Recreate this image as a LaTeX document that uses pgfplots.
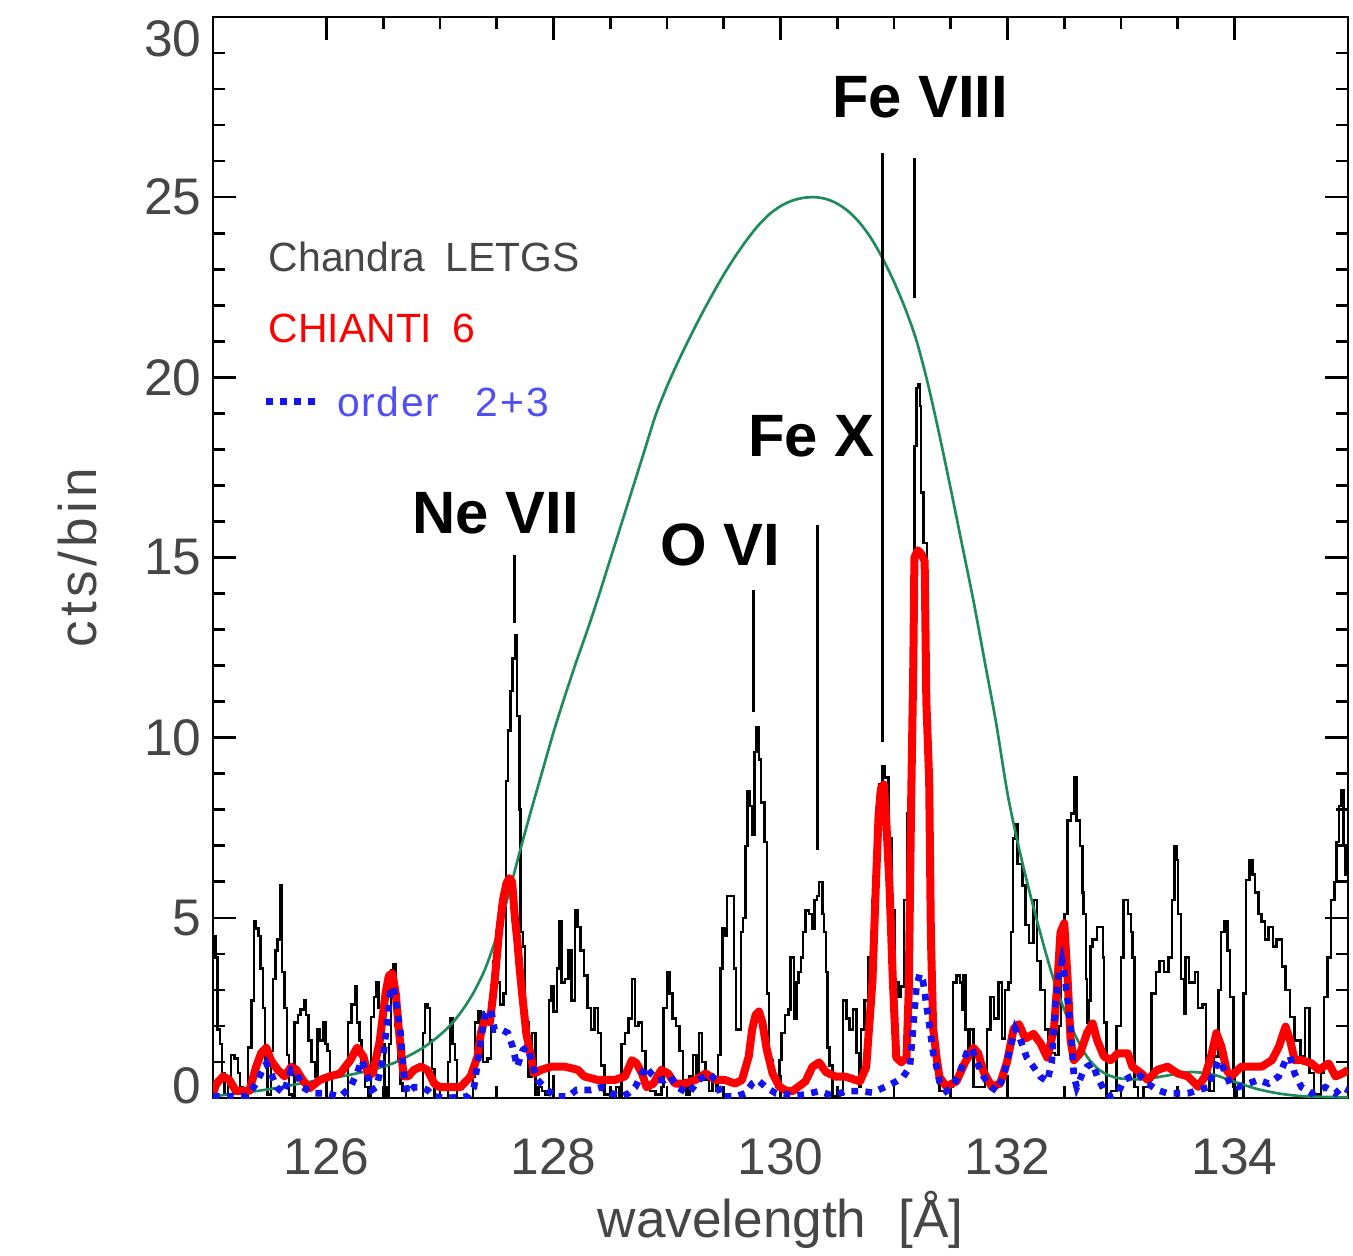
\documentclass[border=0pt]{standalone}
\usepackage{fontspec}
\setmainfont{Liberation Sans}
\usepackage{pgfplots}
\pgfplotsset{compat=1.18}
\definecolor{fitgreen}{RGB}{30,140,90}
\definecolor{ordblue}{RGB}{20,20,240}
\definecolor{lblgray}{RGB}{70,70,70}
\begin{document}
\begin{tikzpicture}
\begin{axis}[
  name=ax, at={(0,0)}, anchor=south west,
  scale only axis, width=340.5bp, height=324.3bp,
  xmin=125, xmax=135, ymin=0, ymax=30,
  xtick={126,128,130,132,134}, ytick={0,5,10,15,20,25,30},
  yticklabels={{\smash{\raisebox{-1.65bp}{0}}},5,10,15,20,25,{\smash{\raisebox{-11.85bp}{30}}}},
  minor x tick num=3, minor y tick num=4,
  tick align=inside, major tick length=6.9bp, minor tick length=3.6bp,
  every tick/.style={black, line width=0.8bp},
  axis line style={line width=0.8bp},
  tick label style={font=\fontsize{15.5}{18}\selectfont, text=lblgray},
  xticklabel style={yshift=-8.5bp},
  /pgf/number format/assume math mode=true,
  clip mode=individual,
]
% Chandra LETGS
\addplot[const plot, black, line width=0.75bp] table {
125.00 4.5
125.02 3.9
125.04 1.9
125.06 1.5
125.08 0.7
125.10 0.1
125.13 0.4
125.16 1.2
125.19 1.1
125.22 0.7
125.24 0.3
125.26 0.0
125.31 1.4
125.34 2.7
125.36 4.9
125.38 4.7
125.40 4.5
125.42 3.6
125.44 2.5
125.46 1.1
125.48 0.1
125.51 1.3
125.53 3.3
125.55 4.1
125.57 4.4
125.59 5.9
125.61 3.5
125.63 2.5
125.65 1.2
125.67 0.1
125.70 0.0
125.72 2.1
125.75 2.3
125.77 2.45
125.80 2.7
125.82 2.3
125.84 1.6
125.87 1.0
125.90 0.6
125.92 1.9
125.94 1.6
125.97 2.1
125.99 1.5
126.01 1.3
126.03 0.7
126.05 0.0
126.19 2.1
126.22 2.6
126.25 3.1
126.27 2.1
126.29 1.6
126.31 1.0
126.34 0.3
126.37 0.0
126.39 2.25
126.42 2.8
126.44 3.2
126.46 2.5
126.49 1.5
126.51 0.3
126.53 0.0
126.55 1.5
126.57 3.55
126.59 3.7
126.61 2.0
126.63 1.0
126.65 0.4
126.67 0.2
126.70 0.0
126.85 1.8
126.87 2.6
126.89 2.5
126.91 1.6
126.93 0.8
126.95 0.0
127.07 1.0
127.09 2.2
127.11 1.5
127.13 1.05
127.15 0.0
127.29 0.6
127.31 2.1
127.34 2.4
127.36 1.6
127.38 1.0
127.42 1.1
127.45 2.5
127.47 3.8
127.50 3.2
127.53 2.6
127.56 2.9
127.58 8.8
127.60 10.2
127.62 11.3
127.64 12.2
127.66 12.85
127.68 10.6
127.70 8.0
127.71 4.6
127.73 4.2
127.75 2.1
127.78 0.6
127.81 1.8
127.84 0.1
127.87 0.3
127.90 0.2
127.93 0.1
127.96 2.7
127.98 3.1
128.00 2.4
128.03 3.6
128.05 4.9
128.07 3.2
128.10 3.3
128.13 4.1
128.16 2.7
128.19 5.2
128.21 4.75
128.24 4.1
128.27 3.4
128.30 2.5
128.33 1.9
128.36 2.5
128.39 1.8
128.42 0.9
128.45 0.1
128.50 0.0
128.55 0.3
128.58 0.0
128.60 1.5
128.63 1.8
128.66 2.2
128.69 3.3
128.72 2.0
128.75 2.1
128.78 1.3
128.81 0.3
128.85 0.2
128.90 0.1
128.95 0.3
128.97 2.5
129.00 3.5
129.02 2.9
129.05 2.2
129.08 2.0
129.11 1.3
129.14 0.5
129.17 0.1
129.20 0.6
129.23 1.2
129.26 0.6
129.28 1.8
129.31 1.0
129.34 0.5
129.37 0.2
129.40 0.5
129.43 0.2
129.45 1.2
129.47 3.6
129.49 4.7
129.51 4.5
129.53 5.6
129.56 5.6
129.59 3.6
129.61 1.9
129.64 1.9
129.65 4.6
129.67 5.0
129.69 7.0
129.71 8.5
129.73 8.1
129.75 7.3
129.77 9.6
129.79 10.3
129.81 9.4
129.83 8.2
129.86 7.1
129.88 2.9
129.90 1.05
129.93 0.6
129.96 0.3
129.99 1.05
130.01 1.8
130.04 2.3
130.07 2.45
130.09 3.9
130.12 2.2
130.14 3.2
130.16 3.5
130.18 3.9
130.20 4.6
130.22 5.2
130.25 5.1
130.28 4.7
130.30 5.5
130.32 5.6
130.34 6.0
130.37 5.1
130.385 4.6
130.40 3.5
130.415 1.4
130.43 0.9
130.46 0.06
130.52 0.1
130.55 2.7
130.58 2.2
130.61 1.9
130.64 2.45
130.67 1.25
130.69 0.3
130.71 1.9
130.74 2.7
130.77 3.9
130.79 3.9
130.81 5.5
130.84 6.8
130.87 8.7
130.90 9.2
130.92 8.9
130.95 7.2
130.98 5.2
131.01 3.2
131.04 2.8
131.06 3.1
131.09 5.5
131.12 7.9
131.14 11.9
131.16 13.6
131.18 18.1
131.20 19.7
131.21 19.8
131.23 19.2
131.24 16.8
131.26 15.4
131.29 8.8
131.31 3.8
131.33 3.4
131.35 1.25
131.37 0.9
131.40 0.2
131.50 0.3
131.52 3.2
131.55 3.4
131.58 3.2
131.60 2.45
131.61 3.4
131.63 1.9
131.65 1.2
131.67 1.9
131.70 0.3
131.80 0.6
131.82 1.9
131.85 2.8
131.88 2.2
131.92 3.2
131.95 1.65
131.98 3.0
132.01 3.2
132.03 4.6
132.05 7.2
132.07 7.6
132.09 6.5
132.13 5.9
132.16 4.8
132.19 4.3
132.23 5.5
132.26 3.8
132.29 3.0
132.33 1.9
132.36 1.65
132.39 1.25
132.42 1.2
132.45 2.0
132.47 3.5
132.50 5.1
132.53 7.7
132.56 7.9
132.585 8.9
132.61 7.7
132.64 7.0
132.66 5.7
132.67 5.1
132.69 3.3
132.70 2.1
132.72 2.7
132.73 4.2
132.75 4.4
132.79 4.75
132.82 4.75
132.84 3.9
132.85 2.1
132.87 0.0
132.91 0.2
132.96 2.0
133.00 3.9
133.02 5.5
133.06 5.1
133.09 4.6
133.10 3.9
133.12 0.3
133.15 0.0
133.20 0.3
133.25 0.5
133.27 2.9
133.31 3.5
133.34 3.8
133.38 3.5
133.42 3.9
133.45 5.5
133.47 7.0
133.49 6.6
133.50 5.1
133.53 3.3
133.56 2.35
133.57 3.9
133.60 3.2
133.65 3.5
133.68 2.5
133.72 2.6
133.75 0.7
133.78 0.2
133.82 1.15
133.86 3.0
133.88 4.6
133.91 4.9
133.94 4.1
133.96 2.8
133.99 0.3
134.02 0.0
134.08 2.9
134.10 6.05
134.13 6.6
134.16 6.2
134.18 5.7
134.21 5.1
134.24 4.9
134.27 4.4
134.30 4.75
134.34 4.2
134.37 4.4
134.42 3.65
134.45 3.0
134.49 2.25
134.53 1.6
134.58 1.15
134.62 2.5
134.66 0.7
134.70 0.1
134.76 0.7
134.79 2.8
134.82 3.9
134.85 5.5
134.88 6.0
134.90 7.1
134.92 8.1
134.94 8.55
134.96 7.0
134.98 6.2
135.00 6.2
};
% emissivity curve
\addplot[smooth, fitgreen, line width=0.8bp] table {
125.0 0.05
125.2 0.12
125.4 0.2
125.6 0.3
125.8 0.42
126.0 0.53
126.2 0.64
126.4 0.78
126.6 0.98
126.8 1.3
126.9 1.5
127.0 1.75
127.1 2.05
127.2 2.45
127.3 2.95
127.4 3.6
127.5 4.5
127.6 5.6
127.7 6.8
127.8 7.95
127.9 9.05
128.0 10.15
128.1 11.15
128.2 12.1
128.3 13.0
128.4 13.95
128.5 14.95
128.6 15.95
128.7 16.95
128.8 17.95
128.9 18.95
129.0 19.75
129.1 20.45
129.2 21.1
129.3 21.72
129.4 22.3
129.5 22.85
129.6 23.35
129.7 23.8
129.8 24.2
129.9 24.52
130.0 24.75
130.1 24.9
130.2 24.98
130.3 25.0
130.4 24.95
130.5 24.82
130.6 24.6
130.7 24.28
130.8 23.85
130.9 23.3
131.0 22.65
131.1 21.9
131.2 21.0
131.3 19.8
131.4 18.4
131.5 16.9
131.6 15.35
131.7 13.8
131.8 12.1
131.9 10.4
132.0 8.45
132.1 6.95
132.2 5.65
132.3 4.45
132.4 3.35
132.5 2.45
132.6 1.72
132.7 1.15
132.8 0.8
132.9 0.62
133.0 0.54
133.2 0.52
133.4 0.62
133.6 0.72
133.8 0.66
134.0 0.45
134.2 0.25
134.4 0.12
134.6 0.05
134.8 0.03
135.0 0.02
};
% CHIANTI 6
\addplot[red, line width=2.4bp, line join=round] table {
125.00 0.13
125.03 0.4
125.09 0.6
125.145 0.5
125.20 0.2
125.32 0.2
125.38 0.87
125.425 1.25
125.47 1.4
125.51 1.05
125.57 0.78
125.63 0.6
125.69 0.87
125.735 0.78
125.79 0.5
125.85 0.27
125.94 0.5
126.03 0.6
126.12 0.68
126.21 1.05
126.27 1.4
126.325 1.15
126.37 0.6
126.41 0.7
126.47 1.6
126.52 2.9
126.55 3.4
126.58 3.46
126.61 2.9
126.64 1.8
126.68 0.6
126.72 0.6
126.77 0.78
126.83 0.87
126.89 0.78
126.95 0.4
127.00 0.3
127.09 0.3
127.18 0.3
127.27 0.6
127.33 1.15
127.36 1.8
127.40 2.25
127.44 2.1
127.48 3.2
127.52 4.6
127.555 5.5
127.585 5.95
127.61 6.1
127.635 6.0
127.66 5.0
127.68 4.4
127.70 3.65
127.73 2.7
127.76 1.8
127.79 1.33
127.83 0.68
127.89 0.78
127.98 0.87
128.10 0.87
128.215 0.78
128.27 0.6
128.39 0.5
128.54 0.5
128.63 0.6
128.69 1.05
128.73 0.97
128.78 0.68
128.82 0.3
128.88 0.4
128.95 0.78
129.01 0.68
129.07 0.4
129.16 0.4
129.25 0.5
129.34 0.68
129.43 0.5
129.51 0.5
129.60 0.4
129.66 0.5
129.72 1.15
129.75 1.9
129.78 2.3
129.81 2.4
129.84 2.1
129.88 1.33
129.93 0.68
129.99 0.32
130.05 0.2
130.105 0.19
130.22 0.46
130.28 0.86
130.34 0.99
130.40 0.72
130.49 0.59
130.577 0.59
130.70 0.46
130.755 0.86
130.81 3.24
130.84 5.9
130.865 7.9
130.885 8.6
130.91 8.7
130.93 7.8
130.96 5.9
130.99 3.24
131.02 1.12
131.065 0.99
131.11 1.12
131.13 3.0
131.15 8.0
131.17 12.0
131.18 15.0
131.21 15.2
131.24 15.1
131.27 14.9
131.285 11.0
131.31 8.8
131.325 4.5
131.345 1.92
131.375 1.12
131.40 0.59
131.46 0.32
131.55 0.46
131.626 0.99
131.70 1.39
131.74 1.25
131.79 0.72
131.86 0.32
131.935 0.4
131.995 0.99
132.054 1.92
132.10 2.05
132.157 1.65
132.23 1.78
132.29 1.52
132.35 1.12
132.41 1.92
132.44 3.24
132.467 4.6
132.50 4.85
132.53 3.27
132.556 1.6
132.585 1.05
132.64 1.24
132.70 1.8
132.75 2.07
132.79 1.6
132.85 1.15
132.91 1.05
132.97 1.24
133.06 1.24
133.10 0.87
133.18 0.68
133.235 0.5
133.32 0.78
133.41 0.87
133.50 0.68
133.59 0.6
133.68 0.31
133.74 0.6
133.80 1.24
133.84 1.8
133.885 1.42
133.93 0.78
133.97 0.6
134.06 0.87
134.15 0.87
134.24 0.87
134.33 1.05
134.39 1.42
134.45 1.98
134.49 1.6
134.53 1.05
134.59 1.05
134.68 0.96
134.74 0.78
134.83 0.96
134.89 0.6
134.95 0.68
135.00 0.78
};
% order 2+3
\addplot[ordblue, line width=2bp, dash pattern=on 2bp off 2.2bp] table {
125.00 0.05
125.30 0.05
125.38 0.4
125.425 0.7
125.47 0.96
125.51 0.7
125.56 0.3
125.62 0.13
125.69 0.78
125.735 0.7
125.79 0.3
125.88 0.13
126.00 0.13
126.12 0.04
126.21 0.3
126.27 0.7
126.31 1.05
126.355 0.7
126.40 0.22
126.44 0.3
126.47 0.7
126.50 1.15
126.53 2.0
126.56 2.9
126.59 3.1
126.62 2.5
126.65 1.9
126.68 0.7
126.71 0.13
126.77 0.3
126.83 0.3
126.89 0.22
126.95 0.04
127.06 0.0
127.24 0.04
127.30 0.3
127.34 1.15
127.37 1.8
127.40 2.35
127.45 2.45
127.48 1.9
127.54 1.9
127.60 1.8
127.64 1.42
127.68 0.87
127.73 1.33
127.77 1.42
127.82 0.87
127.86 0.5
127.92 0.3
128.01 0.04
128.13 0.04
128.20 0.22
128.33 0.22
128.42 0.3
128.51 0.13
128.60 0.04
128.66 0.13
128.72 0.3
128.81 0.87
128.86 0.68
128.92 0.5
128.98 0.5
129.03 0.6
129.09 0.3
129.19 0.13
129.28 0.5
129.37 0.68
129.43 0.5
129.48 0.04
129.60 0.04
129.69 0.13
129.75 0.4
129.80 0.5
129.87 0.3
129.96 0.13
130.05 0.1
130.105 0.06
130.22 0.1
130.34 0.19
130.46 0.06
130.577 0.19
130.70 0.19
130.81 0.15
130.93 0.32
131.02 0.46
131.08 0.59
131.14 0.86
131.168 1.92
131.198 3.1
131.227 3.44
131.256 3.24
131.286 2.58
131.316 1.92
131.345 1.25
131.375 0.86
131.40 0.46
131.46 0.19
131.52 0.32
131.58 0.72
131.64 1.25
131.685 1.39
131.73 0.99
131.79 0.59
131.85 0.32
131.905 0.19
131.965 0.59
132.025 1.39
132.068 1.92
132.11 1.65
132.17 1.12
132.23 0.86
132.29 0.59
132.35 0.46
132.39 0.99
132.42 2.58
132.45 3.37
132.48 3.8
132.50 3.46
132.53 2.72
132.556 2.07
132.585 0.6
132.61 0.3
132.66 0.68
132.70 0.87
132.75 0.96
132.79 0.6
132.85 0.22
132.91 0.04
132.97 0.13
133.03 0.5
133.09 0.6
133.15 0.68
133.235 0.4
133.32 0.22
133.41 0.13
133.50 0.13
133.59 0.13
133.68 0.22
133.77 0.3
133.81 0.68
133.86 1.05
133.91 0.78
133.96 0.4
134.03 0.3
134.12 0.4
134.21 0.5
134.30 0.4
134.39 0.6
134.45 1.05
134.49 1.15
134.53 0.68
134.59 0.3
134.68 0.13
134.80 0.3
134.89 0.13
134.95 0.3
135.00 0.22
};
% line markers
\draw[black, line width=0.9bp] (axis cs:127.652,13.18) -- (axis cs:127.652,15.06);
\draw[black, line width=0.9bp] (axis cs:129.765,10.71) -- (axis cs:129.765,14.1);
\draw[black, line width=0.9bp] (axis cs:130.33,6.88) -- (axis cs:130.33,15.9);
\draw[black, line width=0.9bp] (axis cs:130.90,9.88) -- (axis cs:130.90,26.23);
\draw[black, line width=0.9bp] (axis cs:131.18,22.2) -- (axis cs:131.18,26.1);
% ion labels
\node[font=\bfseries\fontsize{18}{20}\selectfont, inner sep=0pt] at (axis cs:127.49,16.24) {Ne VII};
\node[font=\bfseries\fontsize{18}{20}\selectfont, inner sep=0pt] at (axis cs:129.47,15.35) {O VI};
\node[font=\bfseries\fontsize{18}{20}\selectfont, inner sep=0pt] at (axis cs:130.27,18.37) {Fe X};
\node[font=\bfseries\fontsize{18}{20}\selectfont, inner sep=0pt] at (axis cs:131.23,27.78) {Fe VIII};
% legend
\node[anchor=west, inner sep=0pt, font=\fontsize{12.3}{14}\selectfont, text=lblgray] at (axis cs:125.487,23.34) {Chandra\hspace{0.5em}LETGS};
\node[anchor=west, inner sep=0pt, font=\fontsize{12.3}{14}\selectfont, text=red] at (axis cs:125.487,21.37) {CHIANTI\hspace{0.5em}6};
\draw[ordblue, line width=2bp, dash pattern=on 2bp off 2.2bp] (axis cs:125.47,19.32) -- (axis cs:125.96,19.32);
\node[anchor=west, inner sep=0pt, font=\fontsize{12.3}{14}\selectfont, text=ordblue!75!white] at (axis cs:126.09,19.32) {o\kern.04em r\kern.04em d\kern.04em e\kern.04em r\hspace{0.9em}2\kern.05em+\kern.05em 3};
\end{axis}
\node[rotate=90, font=\fontsize{16}{18}\selectfont, text=lblgray] at ([xshift=-40.5bp]ax.west) {c\kern.08em t\kern.08em s\kern.08em /\kern.08em b\kern.08em i\kern.08em n};
\node[font=\fontsize{16}{18}\selectfont, text=lblgray] at ([yshift=-36.6bp]ax.south) {wavelength\hspace{0.6em}[Å]};
\pgfresetboundingbox
\useasboundingbox (-63.9bp,-47.4bp) rectangle (342bp,329.4bp);
\end{tikzpicture}
\end{document}
